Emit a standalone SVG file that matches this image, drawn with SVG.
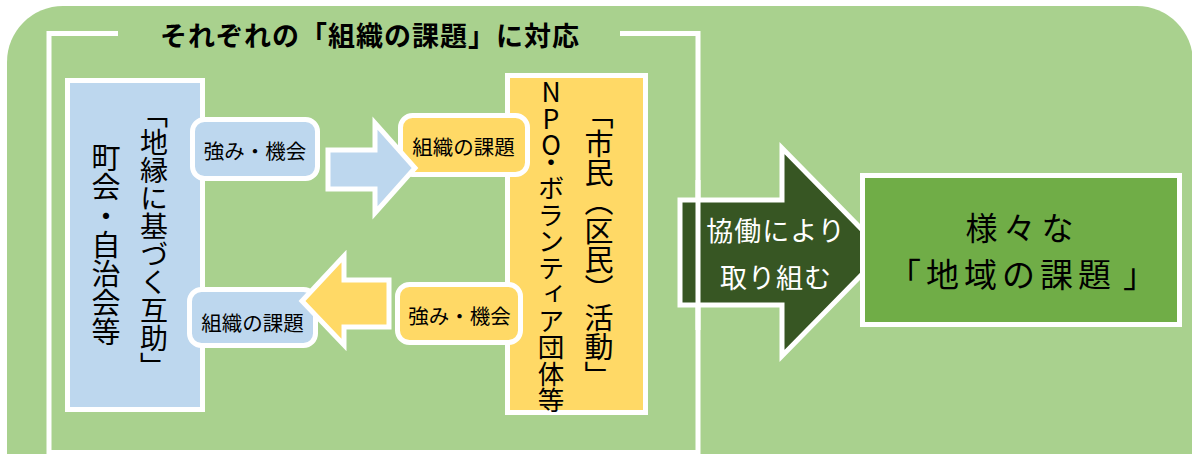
<svg xmlns="http://www.w3.org/2000/svg" width="1192" height="454" viewBox="0 0 1192 454">
<style>
.t{font-family:"Noto Sans CJK JP","Noto Sans",sans-serif;fill:#000}
.v{writing-mode:vertical-rl}
.box{stroke:#fff;stroke-width:5}
.blue{fill:#bdd7ee}
.yel{fill:#ffd966}
.sm{font-size:20.5px;text-anchor:middle}
</style>
<rect x="7" y="6" width="1186" height="520" rx="56" fill="#a9d18e"/>
<g id="frame">
<path d="M118,33.5 H49 V452.5 H698 V33.5 H620" fill="none" stroke="#fff" stroke-width="5"/>
<text class="t" x="160" y="46" font-size="27" font-weight="bold" letter-spacing="1">それぞれの「組織の課題」に対応</text>
</g>
<g id="chiiki">
<rect class="box blue" x="67.5" y="80.5" width="135" height="329"/>
<text class="t v" x="154" y="100" font-size="28">「地縁に基づく互助」</text>
<text class="t v" x="106" y="143" font-size="29">町会・自治会等</text>
</g>
<g id="shimin">
<rect class="box yel" x="507.5" y="75.5" width="138" height="337"/>
<text class="t v" x="599" y="100" font-size="29">「市民（区民）活動」</text>
<text class="t v" x="551" y="79" font-size="26.5" style="text-orientation:upright">NPO<tspan y="148">・ボランティア団体等</tspan></text>
</g>
<g id="blue-strength">
<rect class="box blue" x="192.5" y="119.5" width="125" height="59" rx="12"/>
<text class="t sm" x="255" y="159">強み・機会</text>
</g>
<g id="blue-issue">
<rect class="box blue" x="189.5" y="289.5" width="126" height="56" rx="12"/>
<text class="t sm" x="252.5" y="331">組織の課題</text>
</g>
<g id="yellow-issue">
<rect class="box yel" x="400.5" y="115.5" width="127" height="59" rx="12"/>
<text class="t sm" x="463.5" y="155">組織の課題</text>
</g>
<g id="yellow-strength">
<rect class="box yel" x="397.5" y="284.5" width="123" height="58" rx="12"/>
<text class="t sm" x="459.5" y="324">強み・機会</text>
</g>
<g id="connectors">
<polygon class="box blue" points="328,150 375,150 375,123 415,168 375,213 375,189 328,189"/>
<polygon class="box yel" points="389,280 344,280 344,256 302,301 344,345 344,327 389,327"/>
<polygon class="box" fill="#375623" points="680,200 782,200 782,148 884,252 782,356 782,305 680,305"/>
<line x1="698" y1="180" x2="698" y2="330" stroke="#fff" stroke-width="5"/>
<text class="t" x="776" y="241" font-size="27" text-anchor="middle" style="fill:#fff" letter-spacing="1">協働により</text>
<text class="t" x="776" y="288" font-size="27" text-anchor="middle" style="fill:#fff" letter-spacing="1">取り組む</text>
</g>
<g id="chiiki-kadai">
<rect class="box" fill="#70ad47" x="862.5" y="175.5" width="317" height="149"/>
<text class="t" x="965.5" y="240" font-size="32" letter-spacing="6">様々な</text>
<text class="t" y="287" font-size="33"><tspan x="888">「</tspan><tspan x="926" letter-spacing="5">地域の課題</tspan><tspan x="1123">」</tspan></text>
</g>
</svg>
